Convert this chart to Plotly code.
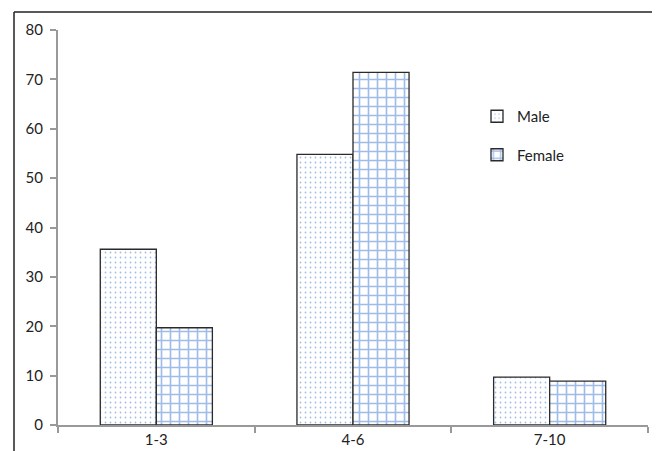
import plotly.graph_objects as go

categories = ["1-3", "4-6", "7-10"]
male = [35.6, 54.8, 9.7]
female = [19.7, 71.4, 8.9]
y_ticks = [0, 10, 20, 30, 40, 50, 60, 70, 80]

FONT = "Lato, 'Open Sans', sans-serif"

fig = go.Figure()
fig.add_trace(go.Bar(
    x=categories, y=male, name="Male", legendgroup="m",
    marker=dict(color="white",
                line=dict(color="#2a2a2a", width=1.3),
                pattern=dict(shape=".", fgcolor="#3f7bd6", bgcolor="white",
                             size=5, solidity=0.1, fillmode="overlay")),
))
fig.add_trace(go.Bar(
    x=categories, y=female, name="Female", legendgroup="f",
    marker=dict(color="white",
                line=dict(color="#2a2a2a", width=1.3),
                pattern=dict(shape="+", fgcolor="#3f78cf", bgcolor="white",
                             size=9, solidity=0.33, fillmode="overlay")),
))

# page body has an 8px default margin; work in reference pixel coords
OFF = 8
W, H = 660 - OFF, 451 - OFF
L, R, T, B = 58 - OFF, 12, 30 - OFF, 26
pw, ph = W - L - R, H - T - B

def px(x):
    return (x - OFF - L) / pw

def py(y):
    return (H - B - (y - OFF)) / ph

fig.update_layout(
    width=W, height=H,
    margin=dict(l=L, r=R, t=T, b=B),
    paper_bgcolor="white", plot_bgcolor="white",
    barmode="group", bargap=0.43, bargroupgap=0,
    font=dict(family=FONT, size=15, color="#222"),
    showlegend=True,
    legend=dict(x=px(477), y=py(100), xanchor="left", yanchor="top",
                bgcolor="rgba(0,0,0,0)", tracegroupgap=16,
                font=dict(size=15, color="#222")),
    xaxis=dict(type="category", tickson="boundaries", ticks="outside",
               ticklen=6, tickwidth=2, tickcolor="#999",
               showline=True, linecolor="#999", linewidth=2,
               showgrid=False, zeroline=False, automargin=False,
               range=[-0.5, 2.5]),
    yaxis=dict(range=[0, 80], tickvals=y_ticks, ticks="outside",
               ticklen=6, tickwidth=2, tickcolor="#999",
               ticklabelstandoff=4,
               showline=True, linecolor="#999", linewidth=2,
               showgrid=False, zeroline=False, automargin=False),
    shapes=[
        dict(type="line", xref="paper", yref="paper",
             x0=px(14), x1=px(662), y0=py(12), y1=py(12),
             line=dict(color="#222", width=1.5)),
        dict(type="line", xref="paper", yref="paper",
             x0=px(14), x1=px(14), y0=py(12), y1=py(460),
             line=dict(color="#222", width=1.5)),
        dict(type="line", xref="paper", yref="paper",
             x0=px(659), x1=px(659), y0=py(12), y1=py(460),
             line=dict(color="#888", width=1.5)),
    ],
)

fig.write_html("out.html")
